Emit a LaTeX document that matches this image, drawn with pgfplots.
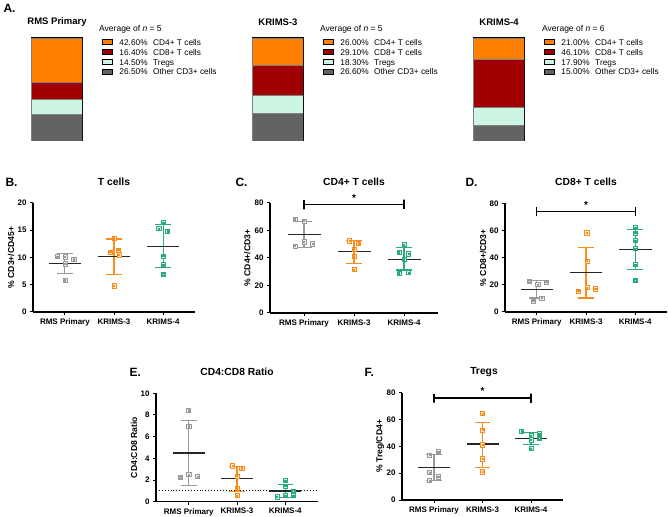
\documentclass[border=0pt]{standalone}
\usepackage{pgfplots}
\pgfplotsset{compat=1.18}
\usepackage{fontspec}
\setmainfont{Liberation Sans}
\definecolor{cgray}{HTML}{9A9A9A}
\definecolor{corange}{HTML}{FF8C1A}
\definecolor{cgreen}{HTML}{2BAA7C}
\definecolor{bOrange}{HTML}{FF8000}
\definecolor{bRed}{HTML}{A00000}
\definecolor{bMint}{HTML}{CCF5E4}
\definecolor{bGray}{HTML}{636363}
\pgfdeclareplotmark{sqd}{%
  \pgfpathrectangle{\pgfqpoint{-\pgfplotmarksize}{-\pgfplotmarksize}}{\pgfqpoint{2\pgfplotmarksize}{2\pgfplotmarksize}}%
  \pgfusepathqfillstroke
  \pgfsetlinewidth{0.5pt}%
  \pgfpathrectangle{\pgfqpoint{-0.7pt}{-0.7pt}}{\pgfqpoint{1.4pt}{1.4pt}}%
  \pgfusepathqstroke
}
\pgfplotsset{
  prism/.style={scale only axis, clip=false,
    axis x line*=bottom, axis y line*=left,
    axis line style={line width=1.1pt,-},
    xtick={0,1,2}, xticklabels={RMS Primary,KRIMS-3,KRIMS-4},
    tick align=outside, major tick length=3pt,
    tick style={line width=1pt,black},
    ticklabel style={font=\fontsize{8}{9}\selectfont\bfseries},
    /pgf/number format/assume math mode=true,
    ylabel style={font=\fontsize{8.6}{9}\selectfont\bfseries, at={(axis description cs:-0.135,0.5)}, anchor=center},
    ymin=0},
  meanbar/.style={draw=none, mark=none, error bars/.cd, x dir=both, x fixed=0.33,
    error mark=none, error bar style={draw=black!85, solid, line width=1.2pt}},
  capbar/.style={draw=none, mark=none, error bars/.cd, x dir=both, x fixed=0.16,
    error mark=none, error bar style={draw=#1, solid, line width=1.1pt}},
  pts/.style={only marks, mark=sqd, #1, mark size=2.1pt,
    mark options={fill=#1!18, line width=0.8pt, draw=#1, solid}},
  brk/.style={black, line width=1.3pt, mark=none},
  stackA/.style={scale only axis, width=51pt, height=103pt,
    ybar stacked, bar width=51pt, bar shift=0pt,
    xmin=-0.5, xmax=0.5, ymin=0, ymax=100,
    xtick=\empty, ytick=\empty, axis line style={line width=1pt},
    reverse legend,
    legend image code/.code={\draw[##1,draw=black,line width=0.6pt] (0pt,-1.2pt) rectangle (10pt,3.6pt);
      \path[draw=none,fill=none] (0pt,0pt) -- (17.3pt,0pt);},
    legend style={at={(axis description cs:1.386,0.988)}, anchor=north west,
      draw=none, fill=none, inner sep=0pt, row sep=2pt,
      font=\fontsize{8.3}{9}\selectfont, legend cell align=left,
      nodes={inner sep=0pt, text height=6pt, text depth=1.8pt}}},
  segs/.style={fill=#1, draw=black!50, line width=0.3pt},
}
\newcommand{\ptxt}[2]{#1\%\hspace{5.6pt}#2}
% colour, x, lo, hi
\newcommand{\sd}[4]{%
  \addplot[#1, line width=1.1pt, mark=none] coordinates {(#2,#3) (#2,#4)};
  \addplot[capbar=#1] coordinates {(#2,#3) (#2,#4)};
}
\begin{document}
\begin{tikzpicture}[x=1pt,y=1pt]
\path[use as bounding box] (0,0) rectangle (668,516);
% ---------- panel letters and titles ----------
\begin{scope}[every node/.style={anchor=west,font=\fontsize{12}{12}\selectfont\bfseries}]
\node at (0,508) {A.};
\node at (2,334) {B.};
\node at (232,334) {C.};
\node at (462,334) {D.};
\node at (126,144) {E.};
\node at (361,144) {F.};
\end{scope}
\begin{scope}[every node/.style={font=\fontsize{9.5}{10}\selectfont\bfseries}]
\node at (57,494) {RMS Primary};
\node at (278,494) {KRIMS-3};
\node at (499,494) {KRIMS-4};
\end{scope}
\begin{scope}[every node/.style={font=\fontsize{10.3}{11}\selectfont\bfseries}]
\node at (114,334) {T cells};
\node at (354,334) {CD4+ T cells};
\node at (586,334) {CD8+ T cells};
\node at (237,144) {CD4:CD8 Ratio};
\node at (484,144) {Tregs};
\end{scope}
\begin{scope}[every node/.style={font=\fontsize{8.5}{9}\selectfont, anchor=west, inner sep=0pt}]
\node at (99,487) {Average of \textit{n} = 5};
\node at (320,487) {Average of \textit{n} = 5};
\node at (542,487) {Average of \textit{n} = 6};
\end{scope}
% ---------- A: stacked bars ----------
\begin{axis}[stackA, at={(31pt,375pt)}, anchor=south west]
\addplot[segs=bGray] coordinates {(0,26.5)};
\addplot[segs=bMint] coordinates {(0,14.5)};
\addplot[segs=bRed] coordinates {(0,16.4)};
\addplot[segs=bOrange] coordinates {(0,42.6)};
\legend{\ptxt{26.50}{Other CD3+ cells},\ptxt{14.50}{Tregs},\ptxt{16.40}{CD8+ T cells},\ptxt{42.60}{CD4+ T cells}}
\end{axis}
\begin{axis}[stackA, at={(252pt,375pt)}, anchor=south west]
\addplot[segs=bGray] coordinates {(0,26.6)};
\addplot[segs=bMint] coordinates {(0,18.3)};
\addplot[segs=bRed] coordinates {(0,29.1)};
\addplot[segs=bOrange] coordinates {(0,26.0)};
\legend{\ptxt{26.60}{Other CD3+ cells},\ptxt{18.30}{Tregs},\ptxt{29.10}{CD8+ T cells},\ptxt{26.00}{CD4+ T cells}}
\end{axis}
\begin{axis}[stackA, at={(473pt,375pt)}, anchor=south west]
\addplot[segs=bGray] coordinates {(0,15.0)};
\addplot[segs=bMint] coordinates {(0,17.9)};
\addplot[segs=bRed] coordinates {(0,46.1)};
\addplot[segs=bOrange] coordinates {(0,21.0)};
\legend{\ptxt{15.00}{Other CD3+ cells},\ptxt{17.90}{Tregs},\ptxt{46.10}{CD8+ T cells},\ptxt{21.00}{CD4+ T cells}}
\end{axis}
% ---------- B ----------
\begin{axis}[prism, at={(33pt,204pt)}, anchor=south west, width=162pt, height=109pt,
  xmin=-0.65, xmax=2.65, ymax=20, ytick={0,5,10,15,20}, ylabel={\% CD3+/CD45+}]
\sd{cgray}{0}{7.1}{10.8}
\sd{corange}{1}{6.95}{13.4}
\sd{cgreen}{2}{8.1}{16.0}
\addplot[meanbar] coordinates {(0,8.9) (1,10.2) (2,12.0)};
\addplot[pts=cgray] coordinates {(-0.16,10.15) (0,10.15) (0.18,9.66) (0.01,8.86) (0,5.85)};
\addplot[pts=corange] coordinates {(0.92,11.0) (1,13.5) (1.09,11.4) (1.1,10.5) (1,4.8)};
\addplot[pts=cgreen] coordinates {(2,16.4) (1.91,15.3) (2.09,14.8) (2,10.3) (2,8.7) (2,6.9)};
\end{axis}
% ---------- C ----------
\begin{axis}[prism, at={(270pt,203pt)}, anchor=south west, width=168pt, height=110pt,
  xmin=-0.68, xmax=2.68, ymax=80, ytick={0,20,40,60,80}, ylabel={\% CD4+/CD3+}]
\sd{cgray}{0}{47.5}{66.7}
\sd{corange}{1}{36.1}{52.5}
\sd{cgreen}{2}{31.3}{47.5}
\addplot[meanbar] coordinates {(0,57.3) (1,44.6) (2,39.0)};
\addplot[pts=cgray] coordinates {(-0.18,68.2) (0,67.0) (0,51.8) (0.17,50.4) (-0.18,48.7)};
\addplot[pts=corange] coordinates {(0.91,52.5) (1.09,50.6) (1,46.5) (1,41.4) (1,31.6)};
\addplot[pts=cgreen] coordinates {(2,49.6) (1.9,44.1) (2.09,43.1) (2,39.0) (1.9,28.9) (2.09,29.4)};
\addplot[brk] coordinates {(0,82.4) (0,75.4) (0,79) (2,79) (2,82.4) (2,75.4)};
\node[font=\fontsize{10}{10}\selectfont\bfseries] at (axis cs:1,83.5) {*};
\end{axis}
% ---------- D ----------
\begin{axis}[prism, at={(505pt,204pt)}, anchor=south west, width=162pt, height=108.5pt,
  xmin=-0.645, xmax=2.645, ymax=80, ytick={0,20,40,60,80}, ylabel={\% CD8+/CD3+}]
\sd{cgray}{0}{10.3}{23.4}
\sd{corange}{1}{10.3}{47.8}
\sd{cgreen}{2}{31.5}{61.0}
\addplot[meanbar] coordinates {(0,16.5) (1,29.3) (2,46.3)};
\addplot[pts=cgray] coordinates {(-0.15,22.6) (0.19,22.2) (0.02,20.2) (0.1,10.3) (-0.07,8.1)};
\addplot[pts=corange] coordinates {(1.02,58.3) (1.02,37.7) (1.02,18.0) (1.19,17.2) (0.84,15.5)};
\addplot[pts=cgreen] coordinates {(2,62.3) (2,58.3) (2,52.7) (2,46.8) (2,35.0) (2,23.4)};
\addplot[brk] coordinates {(0,77.4) (0,70.6) (0,74) (2,74) (2,77.4) (2,70.6)};
\node[font=\fontsize{10}{10}\selectfont\bfseries] at (axis cs:1,79) {*};
\end{axis}
% ---------- E ----------
\begin{axis}[prism, at={(156pt,14.3pt)}, anchor=south west, width=162pt, height=108.4pt,
  xmin=-0.68, xmax=2.68, ymax=10, ytick={0,2,4,6,8,10}, ylabel={CD4:CD8 Ratio}]
\addplot[black, dotted, line width=0.9pt, mark=none] coordinates {(-0.68,1) (2.68,1)};
\sd{cgray}{0}{1.52}{7.46}
\sd{corange}{1}{0.93}{3.25}
\sd{cgreen}{2}{0.42}{1.58}
\addplot[meanbar] coordinates {(0,4.49) (1,2.14) (2,0.99)};
\addplot[pts=cgray] coordinates {(0,8.45) (0,6.97) (0,2.51) (-0.18,2.26) (0.18,2.32)};
\addplot[pts=corange] coordinates {(0.91,3.31) (1.1,3.10) (1,2.38) (1,1.24) (1,0.56)};
\addplot[pts=cgreen] coordinates {(2,1.95) (2,1.46) (2.17,0.96) (2.17,0.56) (2,0.56) (1.83,0.46)};
\end{axis}
% ---------- F ----------
\begin{axis}[prism, at={(402pt,16pt)}, anchor=south west, width=161pt, height=107.3pt,
  xmin=-0.66, xmax=2.66, ymax=80, ytick={0,20,40,60,80}, ylabel={\% Treg/CD4+}]
\sd{cgray}{0}{14.5}{34.1}
\sd{corange}{1}{24.5}{58.1}
\sd{cgreen}{2}{41.5}{50.1}
\addplot[meanbar] coordinates {(0,24.5) (1,41.7) (2,45.9)};
\addplot[pts=cgray] coordinates {(0.09,36.1) (-0.09,33.6) (-0.09,20.4) (0.09,17.4) (-0.09,14.5)};
\addplot[pts=corange] coordinates {(1,64.5) (1,52.3) (1,41.2) (1,30.7) (1,21.1)};
\addplot[pts=cgreen] coordinates {(1.81,51.3) (2.17,49.6) (2,48.1) (2,44.9) (2.17,45.9) (2,38.3)};
\addplot[brk] coordinates {(0,79.3) (0,72.6) (0,76.1) (2,76.1) (2,79.3) (2,72.6)};
\node[font=\fontsize{10}{10}\selectfont\bfseries] at (axis cs:1,81) {*};
\end{axis}
\end{tikzpicture}
\end{document}
